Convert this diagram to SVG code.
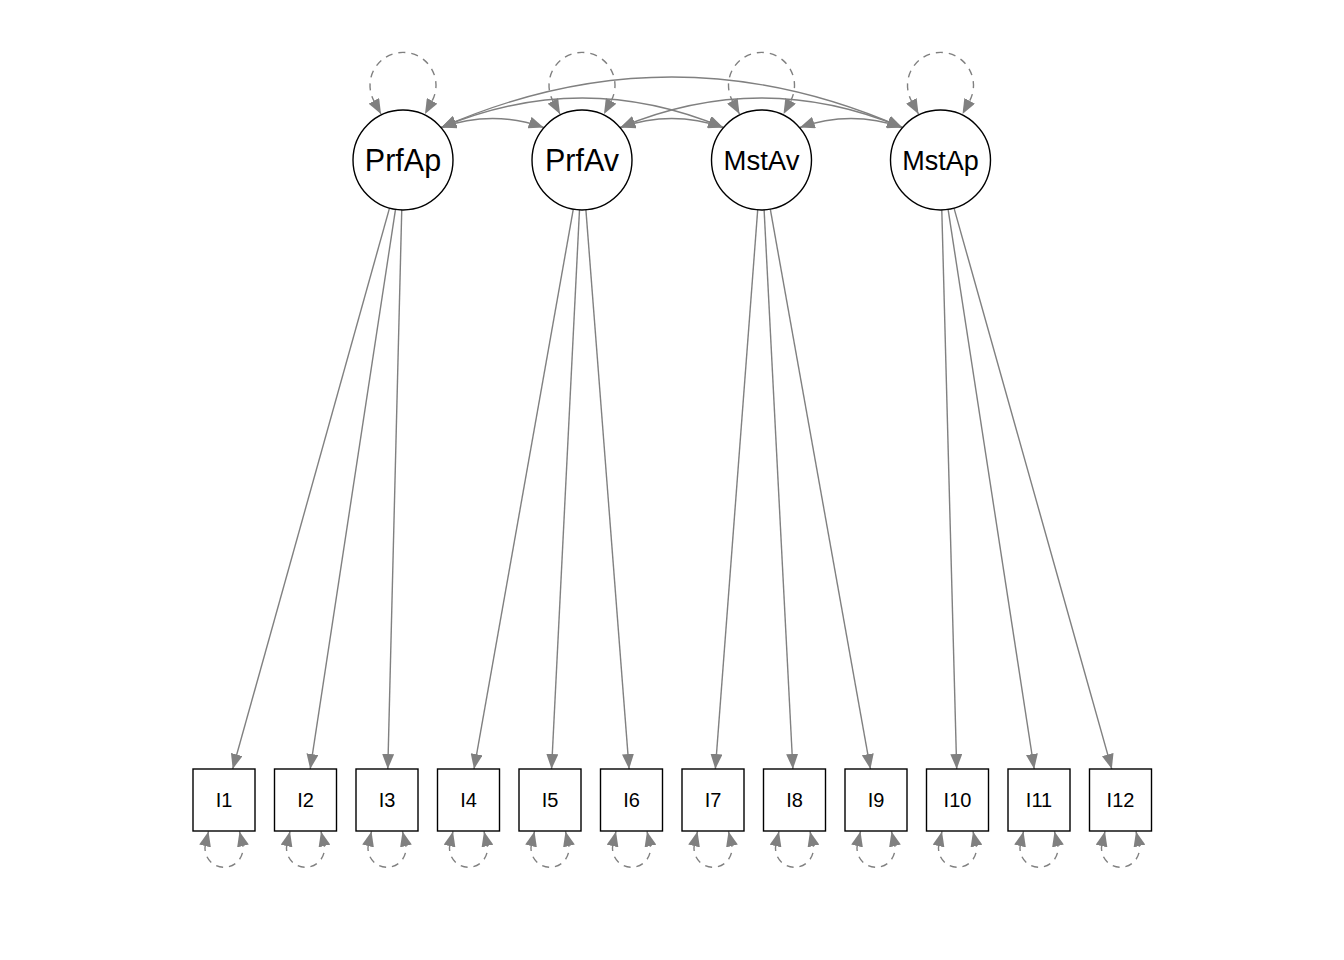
<svg xmlns="http://www.w3.org/2000/svg" width="1344" height="960" viewBox="0 0 1344 960">
<defs>
<marker id="ah" viewBox="0 0 15 12" refX="15" refY="6" markerWidth="15" markerHeight="12" markerUnits="userSpaceOnUse" orient="auto-start-reverse"><path d="M0,0L15,6L0,12z" fill="#808080"/></marker>
</defs>
<style>
.lat{fill:#fff;stroke:#000;stroke-width:1.4}
.man{fill:#fff;stroke:#000;stroke-width:1.4}
.e{fill:none;stroke:#808080;stroke-width:1.4}
.ld{marker-end:url(#ah)}
.cov{marker-start:url(#ah);marker-end:url(#ah)}
.res{fill:none;stroke:#808080;stroke-width:1.4;stroke-dasharray:7 6;marker-start:url(#ah);marker-end:url(#ah)}
text{font-family:"Liberation Sans",Arial,sans-serif;fill:#000;text-anchor:middle}
</style>
<rect width="1344" height="960" fill="#fff"/>
<g id="connectors">
<path class="e ld" d="M389.5,208.1L232.7,769"/>
<path class="e ld" d="M395.5,209.4L310.2,769"/>
<path class="e ld" d="M401.75,210L387.8,769"/>
<path class="e ld" d="M573.3,209.2L474,769"/>
<path class="e ld" d="M579.5,209.9L551.55,769"/>
<path class="e ld" d="M585.9,209.85L629.1,769"/>
<path class="e ld" d="M757.7,209.9L715.35,769"/>
<path class="e ld" d="M764.1,209.9L792.9,769"/>
<path class="e ld" d="M770.3,209.2L870.45,769"/>
<path class="e ld" d="M941.8,210L956.7,769"/>
<path class="e ld" d="M948.1,209.4L1034.2,769"/>
<path class="e ld" d="M954,208.1L1111.8,769"/>
<path class="e cov" d="M441.3,127.5Q492.5,109.5 543.7,127.5"/>
<path class="e cov" d="M620.3,127.5Q671.8,109.5 723.2,127.5"/>
<path class="e cov" d="M799.8,127.5Q851,109.5 902.2,127.5"/>
<path class="e cov" d="M441.3,127.5Q582.3,68.5 723.2,127.5"/>
<path class="e cov" d="M620.3,127.5Q761.3,68.5 902.2,127.5"/>
<path class="e cov" d="M441.3,127.5Q671.8,26.5 902.2,127.5"/>
<path class="res" d="M381,114L374.5,102A33,33 0 1 1 431.5,102L425,114"/>
<path class="res" d="M560,114L553.5,102A33,33 0 1 1 610.5,102L604,114"/>
<path class="res" d="M739.5,114L733,102A33,33 0 1 1 790,102L783.5,114"/>
<path class="res" d="M918.5,114L912,102A33,33 0 1 1 969,102L962.5,114"/>
<path class="res" d="M208.5,831.4L205.5,844A19,19 0 1 0 242.5,844L239.5,831.4"/>
<path class="res" d="M290,831.4L287,844A19,19 0 1 0 324,844L321,831.4"/>
<path class="res" d="M371.5,831.4L368.5,844A19,19 0 1 0 405.5,844L402.5,831.4"/>
<path class="res" d="M453,831.4L450,844A19,19 0 1 0 487,844L484,831.4"/>
<path class="res" d="M534.5,831.4L531.5,844A19,19 0 1 0 568.5,844L565.5,831.4"/>
<path class="res" d="M616,831.4L613,844A19,19 0 1 0 650,844L647,831.4"/>
<path class="res" d="M697.5,831.4L694.5,844A19,19 0 1 0 731.5,844L728.5,831.4"/>
<path class="res" d="M779,831.4L776,844A19,19 0 1 0 813,844L810,831.4"/>
<path class="res" d="M860.5,831.4L857.5,844A19,19 0 1 0 894.5,844L891.5,831.4"/>
<path class="res" d="M942,831.4L939,844A19,19 0 1 0 976,844L973,831.4"/>
<path class="res" d="M1023.5,831.4L1020.5,844A19,19 0 1 0 1057.5,844L1054.5,831.4"/>
<path class="res" d="M1105,831.4L1102,844A19,19 0 1 0 1139,844L1136,831.4"/>
</g>
<g id="PrfAp"><circle class="lat" cx="403" cy="160" r="50"/><text x="403" y="170.7" font-size="30.5">PrfAp</text></g>
<g id="PrfAv"><circle class="lat" cx="582" cy="160" r="50"/><text x="582" y="170.7" font-size="30.5">PrfAv</text></g>
<g id="MstAv"><circle class="lat" cx="761.5" cy="160" r="50"/><text x="761.5" y="169.8" font-size="27.5">MstAv</text></g>
<g id="MstAp"><circle class="lat" cx="940.5" cy="160" r="50"/><text x="940.5" y="169.8" font-size="27">MstAp</text></g>
<g id="I1"><rect class="man" x="193" y="769" width="62" height="62"/><text x="224" y="807.2" font-size="20">I1</text></g>
<g id="I2"><rect class="man" x="274.5" y="769" width="62" height="62"/><text x="305.5" y="807.2" font-size="20">I2</text></g>
<g id="I3"><rect class="man" x="356" y="769" width="62" height="62"/><text x="387" y="807.2" font-size="20">I3</text></g>
<g id="I4"><rect class="man" x="437.5" y="769" width="62" height="62"/><text x="468.5" y="807.2" font-size="20">I4</text></g>
<g id="I5"><rect class="man" x="519" y="769" width="62" height="62"/><text x="550" y="807.2" font-size="20">I5</text></g>
<g id="I6"><rect class="man" x="600.5" y="769" width="62" height="62"/><text x="631.5" y="807.2" font-size="20">I6</text></g>
<g id="I7"><rect class="man" x="682" y="769" width="62" height="62"/><text x="713" y="807.2" font-size="20">I7</text></g>
<g id="I8"><rect class="man" x="763.5" y="769" width="62" height="62"/><text x="794.5" y="807.2" font-size="20">I8</text></g>
<g id="I9"><rect class="man" x="845" y="769" width="62" height="62"/><text x="876" y="807.2" font-size="20">I9</text></g>
<g id="I10"><rect class="man" x="926.5" y="769" width="62" height="62"/><text x="957.5" y="807.2" font-size="20">I10</text></g>
<g id="I11"><rect class="man" x="1008" y="769" width="62" height="62"/><text x="1039" y="807.2" font-size="20">I11</text></g>
<g id="I12"><rect class="man" x="1089.5" y="769" width="62" height="62"/><text x="1120.5" y="807.2" font-size="20">I12</text></g>
</svg>
